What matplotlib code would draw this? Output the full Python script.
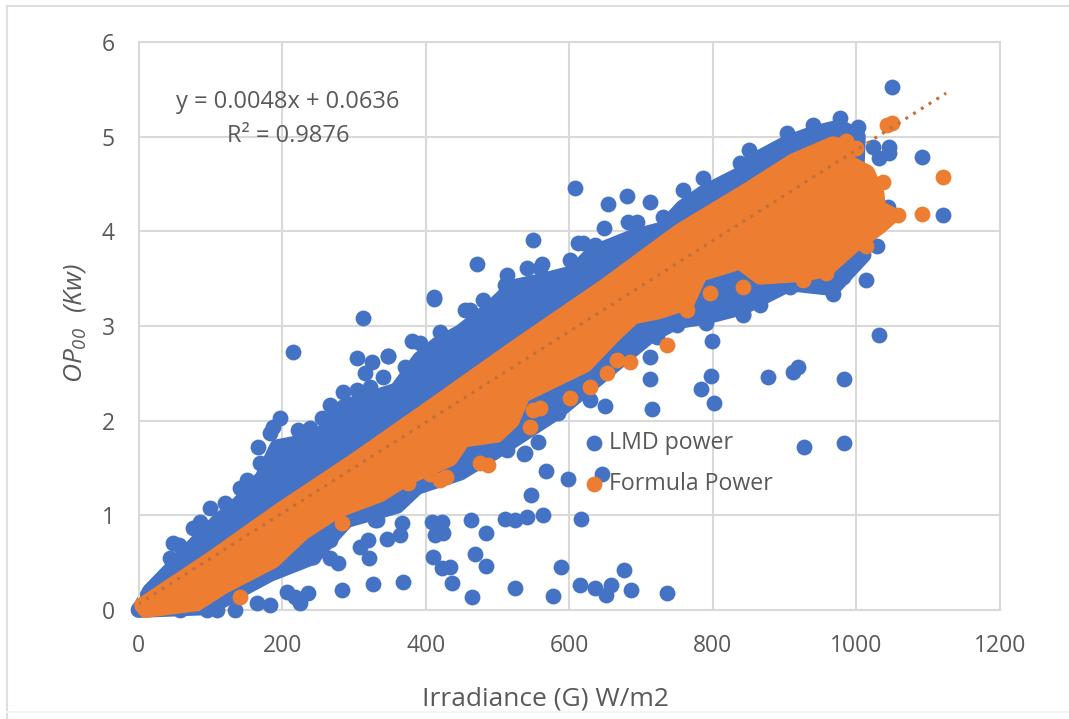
import numpy as np
import matplotlib
matplotlib.use('Agg')
import matplotlib.pyplot as plt
from matplotlib.lines import Line2D

plt.rcParams['font.family'] = ['Open Sans', 'DejaVu Sans']
plt.rcParams['mathtext.fontset'] = 'custom'
plt.rcParams['mathtext.it'] = 'Open Sans:italic'
plt.rcParams['mathtext.rm'] = 'Open Sans:italic'

BLUE = '#4472C4'
ORANGE = '#ED7D31'
TEXT = '#595959'
GRID = '#D9D9D9'

xticks = [0, 200, 400, 600, 800, 1000, 1200]
yticks = [0, 1, 2, 3, 4, 5, 6]

# Solid body of the blue cloud, outline
blue_up_x = [5, 16, 48, 81, 109, 141, 173, 193, 221, 257, 285, 327, 360, 392, 416, 448, 489, 522, 559, 606,
             633, 689, 730, 758, 786, 838, 851, 903, 939, 977, 1002, 1000]
blue_up_y = [0.05, 0.2, 0.45, 0.71, 0.92, 1.13, 1.40, 1.72, 1.76, 1.87, 2.14, 2.24, 2.32, 2.65, 2.8, 2.93, 3.17, 3.41, 3.47, 3.56,
             3.77, 3.94, 4.02, 4.25, 4.4, 4.6, 4.72, 4.93, 5.03, 5.1, 5.0, 4.6]
blue_lo_x = [0, 100, 151, 183, 243, 290, 360, 388, 448, 513, 584, 640, 712, 750, 791, 842, 907, 967, 1010, 1002]
blue_lo_y = [0.0, 0.03, 0.25, 0.38, 0.56, 0.95, 1.1, 1.3, 1.45, 1.75, 2.1, 2.45, 2.9, 3.05, 3.1, 3.2, 3.45, 3.4, 3.75, 4.0]

# Solid body of the orange cloud
orange_up_x = [5, 100, 197, 300, 400, 523, 650, 754, 850, 912, 967, 980, 990, 1015, 1028, 1030, 1050]
orange_up_y = [0.05, 0.53, 1.05, 1.57, 2.1, 2.76, 3.42, 4.0, 4.44, 4.74, 4.92, 4.9, 4.72, 4.62, 4.4, 4.25, 4.17]
orange_lo_x = [10, 81, 118, 187, 229, 276, 336, 374, 434, 452, 499, 520, 535, 622, 661, 689, 722, 764, 782, 838, 866, 926, 958, 995, 1014, 1032, 1050]
orange_lo_y = [0.0, 0.07, 0.25, 0.52, 0.82, 1.05, 1.22, 1.4, 1.6, 1.8, 1.85, 2.0, 2.27, 2.59, 2.9, 3.1, 3.15, 3.25, 3.55, 3.68, 3.52, 3.55, 3.6, 3.85, 3.95, 4.05, 4.17]

# Individual blue points: scattered ones
blue_x = [313, 412, 412, 471, 549, 608, 612, 455, 480, 513, 541, 562, 654, 681, 712, 1049, 1091, 1121, 1014, 1031,
          866, 842, 799, 712, 797, 783, 801, 715, 877, 912, 918, 983, 927, 983, 645, 650, 629, 557, 537, 567, 598,
          547, 616, 564, 541, 524, 510, 589, 676, 525, 577, 615, 636, 651, 658, 686, 736, 215, 304, 325, 315, 347,
          463, 484, 409, 423, 413, 424, 367, 364, 346, 320, 308, 321, 329, 304, 242, 267, 278, 410, 423, 434, 436,
          469, 484, 464, 368, 327, 283, 207, 236, 225, 218, 183, 165, 134, 109, 95, 58]
blue_y = [3.08, 3.31, 3.28, 3.66, 3.91, 4.46, 3.88, 3.17, 3.27, 3.54, 3.61, 3.66, 4.29, 4.37, 4.31, 5.52, 4.79, 4.17, 3.49, 2.9,
          3.22, 3.12, 2.84, 2.44, 2.47, 2.33, 2.19, 2.12, 2.46, 2.51, 2.57, 2.44, 1.72, 1.76, 1.44, 2.15, 2.22, 1.77, 1.65, 1.47, 1.38,
          1.21, 0.96, 1.0, 0.98, 0.95, 0.96, 0.45, 0.42, 0.23, 0.15, 0.26, 0.23, 0.16, 0.26, 0.21, 0.18, 2.73, 2.66, 2.62, 2.5, 2.68,
          0.95, 0.81, 0.93, 0.93, 0.79, 0.81, 0.92, 0.79, 0.75, 0.74, 0.67, 0.55, 0.95, 1.02, 0.56, 0.55, 0.5, 0.56, 0.44, 0.45, 0.29,
          0.59, 0.46, 0.14, 0.3, 0.27, 0.21, 0.19, 0.18, 0.07, 0.14, 0.05, 0.07, 0.0, 0.0, 0.0, 0.0]
# Blue bumps along the upper edge of the cloud
blue_top_x = [44, 48, 56, 76, 86, 100, 120, 141, 151, 166, 169, 183, 187, 197, 222, 239, 255, 267, 285, 304, 322, 340,
              348, 371, 381, 392, 420, 462, 510, 559, 601, 619, 636, 648, 682, 694, 730, 758, 786, 838, 851, 903, 939,
              977, 1002, 985, 1023, 1046, 1032, 1046, 1030, 1044]
blue_top_y = [0.55, 0.71, 0.69, 0.87, 0.93, 1.08, 1.13, 1.29, 1.37, 1.72, 1.55, 1.87, 1.93, 2.03, 1.9, 1.92, 2.03, 2.17, 2.3, 2.32, 2.36, 2.46,
              2.68, 2.57, 2.84, 2.82, 2.94, 3.17, 3.43, 3.61, 3.7, 3.88, 3.86, 4.03, 4.1, 4.1, 4.15, 4.44, 4.56, 4.72, 4.86, 5.04, 5.12,
              5.2, 5.1, 4.87, 4.89, 4.89, 4.77, 4.83, 4.26, 4.26]
# Blue bumps along the lower edge of the cloud
blue_low_x = [151, 165, 183, 243, 267, 290, 313, 332, 360, 389, 445, 475, 494, 513, 538, 524, 584, 541, 564, 583, 587, 611, 615,
              680, 698, 712, 722, 750, 791, 842, 907, 967, 981, 1028]
blue_low_y = [0.32, 0.36, 0.42, 0.56, 0.74, 1.02, 1.05, 0.95, 1.13, 1.37, 1.58, 1.67, 1.67, 1.69, 1.66, 1.88, 2.08, 2.14, 2.29, 2.14, 2.36, 2.29, 2.46,
              2.8, 2.96, 2.67, 2.88, 3.01, 3.03, 3.13, 3.41, 3.34, 3.52, 3.84]

# Individual orange points
orange_x = [1121, 1091, 1058, 1049, 1042, 1037, 796, 842, 926, 736, 601, 283, 141, 475, 487,
            376, 406, 420, 429, 545, 550, 559, 629, 652, 666, 684, 764, 958, 1014, 1000, 985]
orange_y = [4.57, 4.18, 4.17, 5.14, 5.12, 4.52, 3.35, 3.41, 3.49, 2.8, 2.24, 0.92, 0.14, 1.55, 1.53,
            1.34, 1.44, 1.37, 1.40, 1.93, 2.11, 2.13, 2.36, 2.5, 2.64, 2.62, 3.17, 3.56, 3.84, 4.88, 4.95]

trend_x = [0, 1125]
trend_y = [0.0636, 5.46]

W, H = 1069, 719
fig = plt.figure(figsize=(W / 100, H / 100), dpi=100, facecolor='white')
for px0, py0, px1, py1, col in [(7, 6, 1069, 6, '#DEDEDE'), (7, 6, 7, 719, '#DEDEDE'), (7, 712, 1069, 712, '#F5F5F5')]:
    fig.add_artist(Line2D([px0 / W, px1 / W], [1 - py0 / H, 1 - py1 / H], color=col, lw=1.5))

ax = fig.add_axes([138.5 / W, (H - 610) / H, (1000 - 138.5) / W, 568 / H])
ax.patch.set_alpha(0)
ax.set_xlim(0, 1200)
ax.set_ylim(0, 6)
ax.set_xticks(xticks)
ax.set_yticks(yticks)
ax.grid(True, color=GRID, lw=1.5, zorder=0)
ax.set_axisbelow(True)
for s in ax.spines.values():
    s.set_color(GRID)
    s.set_linewidth(1.5)
ax.tick_params(length=0, labelsize=16.5, labelcolor=TEXT)
ax.tick_params(axis='x', pad=17)
ax.tick_params(axis='y', pad=17)

MS = 130
LW = 11.4
for ux, uy, lx, ly, c, z in [(blue_up_x, blue_up_y, blue_lo_x, blue_lo_y, BLUE, 2),
                             (orange_up_x, orange_up_y, orange_lo_x, orange_lo_y, ORANGE, 4)]:
    poly_x = np.r_[ux, lx[::-1]]
    poly_y = np.r_[uy, ly[::-1]]
    ax.fill(poly_x, poly_y, facecolor=c, edgecolor=c, lw=LW, joinstyle='round', zorder=z, clip_on=False)

h1 = ax.scatter(blue_x, blue_y, s=MS, color=BLUE, lw=0, zorder=3, clip_on=False, label='LMD power')
ax.scatter(blue_top_x, blue_top_y, s=MS, color=BLUE, lw=0, zorder=3, clip_on=False)
ax.scatter(blue_low_x, blue_low_y, s=MS, color=BLUE, lw=0, zorder=3, clip_on=False)
h2 = ax.scatter(orange_x, orange_y, s=MS, color=ORANGE, lw=0, zorder=5, clip_on=False, label='Formula Power')
ax.plot(trend_x, trend_y, ls=(0, (1, 2)), lw=2.2, color='#C0703A', zorder=6)

leg = ax.legend(handles=[h1, h2], loc='upper left', bbox_to_anchor=(0.511, 0.315), frameon=False,
                fontsize=16.7, labelcolor=TEXT, handlelength=1.3, handletextpad=0.0, labelspacing=0.72,
                borderpad=0, borderaxespad=0)
leg.set_zorder(7)

fig.text(288 / W, 1 - 102 / H, 'y = 0.0048x + 0.0636', ha='center', va='center', fontsize=17, color=TEXT)
fig.text(288 / W, 1 - 136 / H, 'R² = 0.9876', ha='center', va='center', fontsize=17, color=TEXT)
fig.text(545 / W, 1 - 699 / H, 'Irradiance (G) W/m2', ha='center', va='center', fontsize=19, color=TEXT)
fig.text(75 / W, 1 - 323 / H, r'$OP_{00}\ \ (Kw)$', ha='center', va='center', rotation=90, fontsize=19, color=TEXT)

fig.savefig('out.png', dpi=100)
